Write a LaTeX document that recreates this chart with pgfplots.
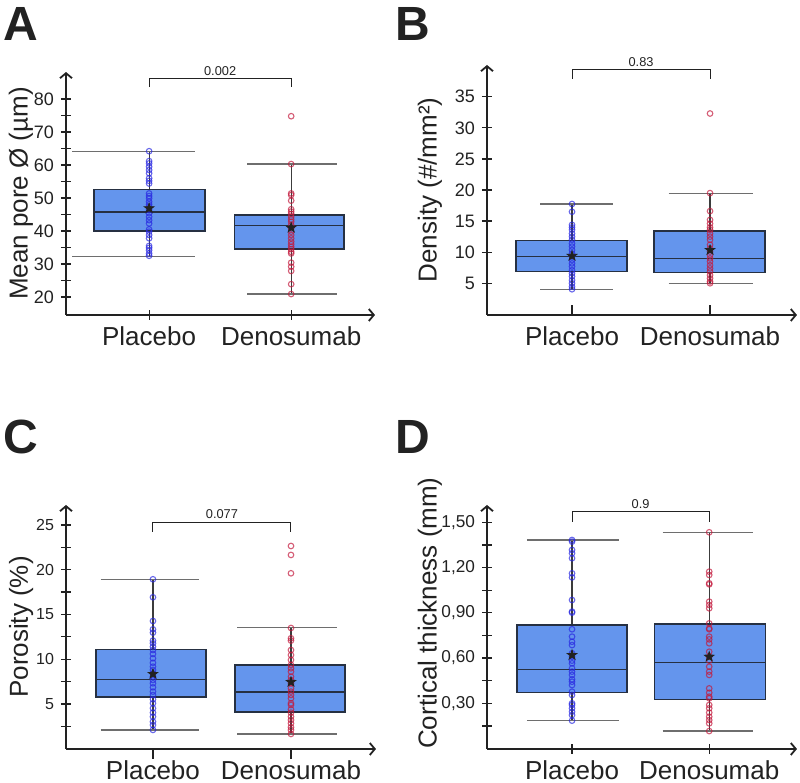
\documentclass[border=0pt]{standalone}
\usepackage{fontspec}
\setmainfont{Liberation Sans}
\usepackage{pgfplots}
\pgfplotsset{compat=1.18}
\usetikzlibrary{arrows.meta}

\definecolor{boxfill}{RGB}{100,149,237}
\definecolor{boxedge}{RGB}{38,48,66}
\definecolor{whisk}{RGB}{60,60,60}
\definecolor{capgray}{RGB}{110,110,110}
\definecolor{inkdark}{RGB}{34,34,34}
\definecolor{ptblue}{RGB}{40,40,225}
\definecolor{ptred}{RGB}{195,25,60}

% filled five-pointed star used for the group means
\pgfdeclareplotmark{fstar}{%
  \pgfpathmoveto{\pgfqpoint{0pt}{\pgfplotmarksize}}%
  \pgfpathlineto{\pgfqpoint{-0.235\pgfplotmarksize}{0.324\pgfplotmarksize}}%
  \pgfpathlineto{\pgfqpoint{-0.951\pgfplotmarksize}{0.309\pgfplotmarksize}}%
  \pgfpathlineto{\pgfqpoint{-0.380\pgfplotmarksize}{-0.124\pgfplotmarksize}}%
  \pgfpathlineto{\pgfqpoint{-0.588\pgfplotmarksize}{-0.809\pgfplotmarksize}}%
  \pgfpathlineto{\pgfqpoint{0pt}{-0.4\pgfplotmarksize}}%
  \pgfpathlineto{\pgfqpoint{0.588\pgfplotmarksize}{-0.809\pgfplotmarksize}}%
  \pgfpathlineto{\pgfqpoint{0.380\pgfplotmarksize}{-0.124\pgfplotmarksize}}%
  \pgfpathlineto{\pgfqpoint{0.951\pgfplotmarksize}{0.309\pgfplotmarksize}}%
  \pgfpathlineto{\pgfqpoint{0.235\pgfplotmarksize}{0.324\pgfplotmarksize}}%
  \pgfpathclose
  \pgfusepathqfillstroke}

\tikzset{
  pval/.style={font=\fontsize{6.4}{6.4}\selectfont, text=inkdark},
  letter/.style={anchor=north west, inner sep=0pt, font=\bfseries\fontsize{24}{24}\selectfont, text=inkdark},
}

\pgfplotsset{
  panel/.style={
    scale only axis, anchor=south west,
    axis lines=left,
    every outer x axis line/.append style={-{Straight Barb[length=2.5pt,width=6pt]}},
    every outer y axis line/.append style={-{Straight Barb[length=2.5pt,width=6pt]}},
    axis line style={inkdark, line width=0.9pt},
    xtick={1,2}, xticklabels={Placebo,Denosumab},
    x tick label style={font=\fontsize{13}{13}\selectfont, text=inkdark,
      inner sep=0pt, yshift=-3.3pt},
    y tick label style={text=inkdark},
    tick align=center, major tick length=5pt, minor tick length=5pt,
    tick style={inkdark, line width=0.6pt},
    /pgf/number format/assume math mode=true,
    ylabel style={font=\fontsize{13}{13}\selectfont, text=inkdark, anchor=center},
    clip=false,
  },
  boxbody/.style={draw=boxedge, fill=boxfill, line width=0.7pt, mark=none, forget plot},
  medline/.style={draw=boxedge, line width=0.7pt, mark=none, forget plot},
  whiskline/.style={draw=whisk, line width=0.55pt, mark=none, forget plot},
  capline/.style={draw=capgray, line width=0.6pt, mark=none, forget plot},
  pla/.style={only marks, mark=o, mark size=1.4pt, color=ptblue,
    mark options={line width=0.55pt, draw opacity=0.7}, forget plot},
  den/.style={only marks, mark=o, mark size=1.4pt, color=ptred,
    mark options={line width=0.55pt, draw opacity=0.7}, forget plot},
  meanstar/.style={only marks, mark=fstar, mark size=2.5pt,
    draw=inkdark, fill=inkdark, forget plot},
  bracket/.style={draw=inkdark, line width=0.5pt, mark=none, forget plot},
}

\begin{document}
\begin{tikzpicture}
\path[use as bounding box] (0,0) rectangle (400pt,391.5pt);

\node[letter] at (1.5pt,388pt) {A};
\node[letter] at (197.5pt,388pt) {B};
\node[letter] at (1.5pt,181.5pt) {C};
\node[letter] at (197.5pt,181.5pt) {D};

% ---------------- A: mean pore diameter ----------------
\begin{axis}[panel, at={(33pt,234pt)}, width=154.5pt, height=121.5pt,
  xmin=0.415, xmax=2.59, ymin=14.55, ymax=88.2,
  ytick={20,30,...,80}, minor ytick={25,35,...,75},
  y tick label style={font=\fontsize{9}{9}\selectfont},
  ylabel={Mean pore Ø (µm)},
  ylabel style={at={(axis description cs:-0.146,0.5)}}]
% placebo
\addplot[whiskline] coordinates {(1,32.4) (1,40.0)};
\addplot[whiskline] coordinates {(1,52.6) (1,64.2)};
\addplot[capline] coordinates {(0.46,32.4) (1.32,32.4)};
\addplot[capline] coordinates {(0.46,64.2) (1.32,64.2)};
\addplot[boxbody] coordinates {(0.613,40.0) (1.394,40.0) (1.394,52.6) (0.613,52.6)} -- cycle;
\addplot[medline] coordinates {(0.613,45.8) (1.394,45.8)};
% denosumab
\addplot[whiskline] coordinates {(2,20.9) (2,34.5)};
\addplot[whiskline] coordinates {(2,44.8) (2,60.3)};
\addplot[capline] coordinates {(1.69,20.9) (2.32,20.9)};
\addplot[capline] coordinates {(1.69,60.3) (2.32,60.3)};
\addplot[boxbody] coordinates {(1.599,34.5) (2.373,34.5) (2.373,44.8) (1.599,44.8)} -- cycle;
\addplot[medline] coordinates {(1.599,41.7) (2.373,41.7)};
\addplot[pla] coordinates {(1,64.2) (1,61.2) (1,60.5) (1,59.5) (1,58.5) (1,57.5) (1,56.0) (1,55.2) (1,54.4) (1,51.4) (1,50.6) (1,49.9) (1,48.9) (1,48.1) (1,47.4) (1,46.4) (1,45.4) (1,44.3) (1,43.3) (1,42.3) (1,40.5) (1,39.8) (1,38.8) (1,37.8) (1,35.5) (1,34.9) (1,34.2) (1,33.2) (1,32.5)};
\addplot[den] coordinates {(2,74.8) (2,60.3) (2,51.4) (2,50.9) (2,49.2) (2,46.6) (2,45.9) (2,45.2) (2,44.3) (2,43.5) (2,42.8) (2,41.8) (2,40.8) (2,39.8) (2,38.8) (2,37.8) (2,36.8) (2,36.0) (2,35.2) (2,34.5) (2,33.7) (2,33.2) (2,30.4) (2,29.2) (2,27.9) (2,23.9) (2,20.9)};
\addplot[meanstar] coordinates {(1,46.9) (2,41.0)};
\addplot[bracket] coordinates {(1,83.6) (1,86.36) (2,86.36) (2,83.6)};
\node[pval] at (axis cs:1.5,88.6) {0.002};
\end{axis}

% ---------------- B: pore density ----------------
\begin{axis}[panel, at={(243.5pt,234pt)}, width=155pt, height=125pt,
  xmin=0.384, xmax=2.63, ymin=-0.1, ymax=40.1,
  ytick={5,10,...,35},
  x tick style={yshift=2.5pt},
  y tick label style={font=\fontsize{9}{9}\selectfont},
  ylabel={Density (\#/mm²)},
  ylabel style={at={(axis description cs:-0.184,0.5)}}]
\addplot[whiskline] coordinates {(1,4.04) (1,6.87)};
\addplot[whiskline] coordinates {(1,11.85) (1,17.75)};
\addplot[capline] coordinates {(0.77,4.04) (1.30,4.04)};
\addplot[capline] coordinates {(0.77,17.75) (1.30,17.75)};
\addplot[boxbody] coordinates {(0.594,6.87) (1.399,6.87) (1.399,11.85) (0.594,11.85)} -- cycle;
\addplot[medline] coordinates {(0.594,9.28) (1.399,9.28)};
\addplot[whiskline] coordinates {(2,5.0) (2,6.7)};
\addplot[whiskline] coordinates {(2,13.4) (2,19.5)};
\addplot[capline] coordinates {(1.70,5.0) (2.31,5.0)};
\addplot[capline] coordinates {(1.70,19.5) (2.31,19.5)};
\addplot[boxbody] coordinates {(1.594,6.7) (2.399,6.7) (2.399,13.4) (1.594,13.4)} -- cycle;
\addplot[medline] coordinates {(1.594,9.0) (2.399,9.0)};
\addplot[pla] coordinates {(1,17.75) (1,16.5) (1,14.4) (1,14.0) (1,13.6) (1,13.0) (1,12.5) (1,12.0) (1,11.4) (1,10.9) (1,10.35) (1,9.8) (1,9.3) (1,8.75) (1,8.2) (1,7.7) (1,7.1) (1,6.6) (1,6.1) (1,5.5) (1,5.0) (1,4.45) (1,4.04)};
\addplot[den] coordinates {(2,32.3) (2,19.5) (2,16.6) (2,15.2) (2,14.6) (2,14.0) (2,13.6) (2,13.0) (2,12.5) (2,12.0) (2,11.2) (2,10.6) (2,10.1) (2,9.55) (2,9.0) (2,8.5) (2,7.9) (2,7.4) (2,6.9) (2,6.3) (2,5.8) (2,5.3) (2,5.0)};
\addplot[meanstar] coordinates {(1,9.4) (2,10.35)};
\addplot[bracket] coordinates {(1,37.9) (1,39.3) (2,39.3) (2,37.9)};
\node[pval] at (axis cs:1.5,40.6) {0.83};
\end{axis}

% ---------------- C: porosity ----------------
\begin{axis}[panel, at={(33pt,17pt)}, width=155pt, height=122pt,
  xmin=0.37, xmax=2.616, ymin=-0.03, ymax=27.23,
  ytick={5,10,...,25}, minor ytick={2.5,7.5,...,22.5},
  x tick style={yshift=-2.5pt},
  y tick label style={font=\fontsize{8}{8}\selectfont},
  ylabel={Porosity (\%)},
  ylabel style={at={(axis description cs:-0.145,0.5)}}]
\addplot[whiskline] coordinates {(1,2.1) (1,5.78)};
\addplot[whiskline] coordinates {(1,11.1) (1,18.9)};
\addplot[capline] coordinates {(0.62,2.1) (1.33,2.1)};
\addplot[capline] coordinates {(0.62,18.9) (1.33,18.9)};
\addplot[boxbody] coordinates {(0.587,5.78) (1.384,5.78) (1.384,11.1) (0.587,11.1)} -- cycle;
\addplot[medline] coordinates {(0.587,7.76) (1.384,7.76)};
\addplot[whiskline] coordinates {(2,1.65) (2,4.1)};
\addplot[whiskline] coordinates {(2,9.36) (2,13.5)};
\addplot[capline] coordinates {(1.61,1.65) (2.33,1.65)};
\addplot[capline] coordinates {(1.61,13.5) (2.33,13.5)};
\addplot[boxbody] coordinates {(1.594,4.1) (2.391,4.1) (2.391,9.36) (1.594,9.36)} -- cycle;
\addplot[medline] coordinates {(1.594,6.34) (2.391,6.34)};
\addplot[pla] coordinates {(1,18.93) (1,16.92) (1,14.27) (1,13.34) (1,12.97) (1,12.08) (1,11.78) (1,11.4) (1,11.03) (1,10.59) (1,10.1) (1,9.6) (1,9.17) (1,8.8) (1,8.43) (1,8.05) (1,7.68) (1,7.31) (1,6.86) (1,6.38) (1,6.0) (1,5.52) (1,5.08) (1,4.52) (1,4.03) (1,3.58) (1,3.02) (1,2.65) (1,2.1)};
\addplot[den] coordinates {(2,22.65) (2,21.65) (2,19.6) (2,13.49) (2,12.34) (2,12.08) (2,11.03) (2,10.47) (2,9.92) (2,9.36) (2,8.99) (2,8.61) (2,8.05) (2,7.68) (2,7.31) (2,6.75) (2,6.38) (2,6.0) (2,5.63) (2,5.08) (2,4.89) (2,4.4) (2,4.03) (2,3.58) (2,3.21) (2,2.84) (2,2.4) (2,2.1) (2,1.65)};
\addplot[meanstar] coordinates {(1,8.35) (2,7.46)};
\addplot[bracket] coordinates {(1,24.25) (1,25.26) (2,25.26) (2,24.25)};
\node[pval] at (axis cs:1.5,26.2) {0.077};
\end{axis}

% ---------------- D: cortical thickness ----------------
\begin{axis}[panel, at={(243.5pt,17pt)}, width=155pt, height=122pt,
  xmin=0.38, xmax=2.64, ymin=-0.003, ymax=1.615,
  ytick={0.3,0.6,0.9,1.2,1.5}, minor ytick={0.15,0.45,0.75,1.05,1.35},
  yticklabel style={font=\fontsize{8.6}{8.6}\selectfont,
    /pgf/number format/.cd, fixed, fixed zerofill, precision=2, use comma},
  ylabel={Cortical thickness (mm)},
  ylabel style={at={(axis description cs:-0.184,0.557)}}]
\addplot[whiskline] coordinates {(1,0.185) (1,0.37)};
\addplot[whiskline] coordinates {(1,0.819) (1,1.383)};
\addplot[capline] coordinates {(0.67,0.185) (1.34,0.185)};
\addplot[capline] coordinates {(0.67,1.383) (1.34,1.383)};
\addplot[boxbody] coordinates {(0.599,0.37) (1.401,0.37) (1.401,0.819) (0.599,0.819)} -- cycle;
\addplot[medline] coordinates {(0.599,0.525) (1.401,0.525)};
\addplot[whiskline] coordinates {(2,0.116) (2,0.327)};
\addplot[whiskline] coordinates {(2,0.826) (2,1.434)};
\addplot[capline] coordinates {(1.66,0.116) (2.32,0.116)};
\addplot[capline] coordinates {(1.66,1.434) (2.32,1.434)};
\addplot[boxbody] coordinates {(1.599,0.327) (2.409,0.327) (2.409,0.826) (1.599,0.826)} -- cycle;
\addplot[medline] coordinates {(1.599,0.569) (2.409,0.569)};
\addplot[pla] coordinates {(1,1.383) (1,1.372) (1,1.317) (1,1.295) (1,1.262) (1,1.162) (1,1.135) (1,0.985) (1,0.908) (1,0.901) (1,0.791) (1,0.742) (1,0.708) (1,0.686) (1,0.632) (1,0.609) (1,0.583) (1,0.565) (1,0.532) (1,0.51) (1,0.488) (1,0.459) (1,0.443) (1,0.421) (1,0.377) (1,0.355) (1,0.30) (1,0.289) (1,0.267) (1,0.244) (1,0.222) (1,0.185)};
\addplot[den] coordinates {(2,1.434) (2,1.173) (2,1.151) (2,1.096) (2,1.089) (2,0.974) (2,0.952) (2,0.93) (2,0.83) (2,0.797) (2,0.791) (2,0.742) (2,0.724) (2,0.698) (2,0.642) (2,0.609) (2,0.583) (2,0.543) (2,0.51) (2,0.488) (2,0.399) (2,0.37) (2,0.344) (2,0.333) (2,0.289) (2,0.267) (2,0.238) (2,0.211) (2,0.189) (2,0.167) (2,0.116)};
\addplot[meanstar] coordinates {(1,0.62) (2,0.609)};
\addplot[bracket] coordinates {(1,1.504) (1,1.571) (2,1.571) (2,1.504)};
\node[pval] at (axis cs:1.5,1.624) {0.9};
\end{axis}
\end{tikzpicture}
\end{document}
